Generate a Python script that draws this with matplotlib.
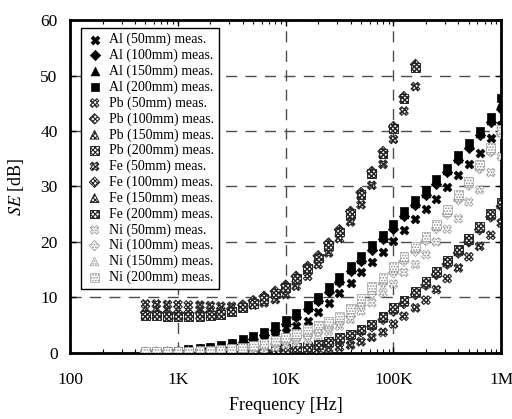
import matplotlib
matplotlib.use("Agg")
import matplotlib.pyplot as plt
from matplotlib.ticker import FixedLocator, FixedFormatter, LogLocator, NullFormatter

plt.rcParams['font.family'] = ['Liberation Serif', 'DejaVu Serif']
plt.rcParams['mathtext.fontset'] = 'stix'

# measured frequencies [Hz]
freq = [500, 630, 800, 1000, 1250, 1600, 2000, 2500, 3150, 4000, 5000, 6300, 8000,
        10000, 12500, 16000, 20000, 25000, 31500, 40000, 50000, 63000, 80000,
        100000, 125000, 160000, 200000, 250000, 315000, 400000, 500000, 630000,
        800000, 1000000]
freq_fe = freq[:26]

# shielding effectiveness [dB]
al_50 = [0.0, 0.0, 0.1, 0.1, 0.2, 0.3, 0.4, 0.6, 0.9, 1.3, 1.8, 2.4, 3.0, 3.7, 4.9, 5.8, 7.3,
         9.0, 10.7, 12.6, 14.5, 16.3, 18.1, 20.1, 22.2, 24.2, 26.0, 27.8, 29.9, 32.0, 34.0,
         36.1, 38.7, 41.0]
al_100 = [0.1, 0.1, 0.2, 0.3, 0.4, 0.6, 0.8, 1.1, 1.5, 1.9, 2.5, 3.2, 4.1, 5.2, 6.4, 7.9, 9.3,
          11.0, 12.8, 14.8, 16.6, 18.6, 20.5, 22.4, 24.6, 26.6, 28.5, 30.5, 32.6, 34.8, 37.0,
          39.2, 41.6, 44.0]
al_150 = [0.1, 0.2, 0.3, 0.4, 0.5, 0.7, 0.9, 1.2, 1.6, 2.1, 2.7, 3.5, 4.4, 5.6, 6.8, 8.3, 9.7,
          11.5, 13.2, 15.2, 17.0, 19.0, 20.9, 22.8, 25.1, 27.1, 28.9, 30.9, 33.0, 35.2, 37.4,
          39.6, 42.0, 45.0]
al_200 = [0.1, 0.2, 0.3, 0.4, 0.6, 0.8, 1.0, 1.4, 1.8, 2.4, 3.0, 3.8, 4.8, 6.0, 7.2, 8.7, 10.1,
          11.9, 13.6, 15.6, 17.4, 19.4, 21.3, 23.2, 25.5, 27.5, 29.3, 31.3, 33.4, 35.6, 37.8,
          40.0, 42.5, 46.0]

pb_50 = [0.0, 0.0, 0.0, 0.0, 0.0, 0.0, 0.1, 0.1, 0.1, 0.1, 0.1, 0.2, 0.2, 0.3, 0.3, 0.4, 0.5,
         0.7, 1.0, 1.4, 2.0, 2.8, 3.7, 5.2, 6.6, 8.1, 9.5, 11.4, 13.4, 15.3, 17.3, 19.2, 21.2, 23.4]
pb_100 = [0.0, 0.1, 0.1, 0.1, 0.1, 0.1, 0.1, 0.2, 0.2, 0.2, 0.3, 0.3, 0.4, 0.6, 0.8, 1.0, 1.3,
          1.7, 2.3, 3.0, 3.8, 4.7, 6.0, 7.5, 8.9, 10.5, 12.2, 14.1, 16.0, 18.0, 20.0, 22.2, 24.5, 26.4]
pb_150 = [0.1, 0.1, 0.1, 0.1, 0.1, 0.1, 0.2, 0.2, 0.2, 0.3, 0.3, 0.4, 0.5, 0.7, 0.9, 1.1, 1.4,
          1.8, 2.5, 3.2, 4.1, 5.0, 6.3, 7.8, 9.2, 10.8, 12.5, 14.4, 16.3, 18.3, 20.3, 22.5, 24.8, 26.8]
pb_200 = [0.1, 0.1, 0.1, 0.1, 0.1, 0.2, 0.2, 0.2, 0.3, 0.3, 0.3, 0.4, 0.6, 0.8, 1.0, 1.2, 1.5,
          2.0, 2.7, 3.4, 4.3, 5.2, 6.6, 8.1, 9.5, 11.1, 12.8, 14.7, 16.6, 18.6, 20.6, 22.8, 25.1, 27.1]

fe_50 = [8.8, 8.8, 8.7, 8.7, 8.6, 8.6, 8.5, 8.4, 8.4, 8.4, 8.6, 9.0, 9.6, 10.5, 12.0, 13.8, 15.9,
         18.0, 20.6, 23.6, 26.7, 30.2, 34.0, 38.5, 43.6, 48.0]
fe_100 = [7.3, 7.3, 7.2, 7.2, 7.2, 7.2, 7.3, 7.5, 7.9, 8.6, 9.4, 10.2, 11.1, 12.2, 13.8, 15.6, 17.5,
          19.8, 22.2, 25.5, 28.9, 32.7, 36.3, 40.8, 46.2, 52.0]
fe_150 = [7.0, 7.0, 6.9, 6.9, 6.9, 6.9, 7.0, 7.2, 7.7, 8.4, 9.2, 10.0, 10.9, 12.0, 13.6, 15.4, 17.3,
          19.6, 22.0, 25.3, 28.7, 32.5, 36.1, 40.6, 46.0, 51.7]
fe_200 = [6.7, 6.7, 6.6, 6.6, 6.6, 6.6, 6.7, 6.9, 7.4, 8.1, 8.9, 9.8, 10.7, 11.8, 13.4, 15.2, 17.1,
          19.4, 21.8, 25.1, 28.5, 32.3, 35.9, 40.4, 45.8, 51.5]

ni_50 = [0.1, 0.1, 0.1, 0.1, 0.1, 0.2, 0.2, 0.3, 0.3, 0.4, 0.5, 0.7, 1.0, 1.4, 1.8, 2.3, 3.0,
         3.8, 4.8, 6.0, 7.5, 9.0, 10.8, 12.4, 14.5, 15.9, 17.7, 20.0, 22.3, 24.2, 27.2, 29.4, 32.5, 35.4]
ni_100 = [0.1, 0.1, 0.2, 0.2, 0.2, 0.3, 0.3, 0.4, 0.6, 0.7, 0.9, 1.2, 1.6, 2.0, 2.5, 3.1, 3.8,
          4.5, 5.4, 6.6, 8.5, 10.6, 12.5, 14.4, 16.5, 18.3, 20.2, 22.4, 25.0, 27.6, 30.2, 33.2, 36.2, 39.4]
ni_150 = [0.2, 0.2, 0.2, 0.2, 0.3, 0.3, 0.4, 0.5, 0.7, 0.9, 1.1, 1.5, 1.9, 2.4, 3.0, 3.7, 4.4,
          5.1, 6.0, 7.3, 9.2, 11.3, 13.1, 15.0, 17.0, 18.8, 20.6, 22.8, 25.4, 28.1, 30.6, 33.6, 36.6, 39.8]
ni_200 = [0.2, 0.2, 0.2, 0.3, 0.3, 0.4, 0.5, 0.6, 0.8, 1.0, 1.3, 1.7, 2.2, 2.8, 3.5, 4.2, 5.0,
          5.7, 6.6, 8.0, 9.8, 11.9, 13.6, 15.5, 17.4, 19.2, 21.0, 23.2, 25.8, 28.5, 31.0, 34.0, 37.0, 40.3]

series = [
    ("Al (50mm) meas.", freq, al_50, "X", "solid"),
    ("Al (100mm) meas.", freq, al_100, "D", "solid"),
    ("Al (150mm) meas.", freq, al_150, "^", "solid"),
    ("Al (200mm) meas.", freq, al_200, "s", "solid"),
    ("Pb (50mm) meas.", freq, pb_50, "X", "dark"),
    ("Pb (100mm) meas.", freq, pb_100, "D", "dark"),
    ("Pb (150mm) meas.", freq, pb_150, "^", "dark"),
    ("Pb (200mm) meas.", freq, pb_200, "s", "dark"),
    ("Fe (50mm) meas.", freq_fe, fe_50, "X", "dark"),
    ("Fe (100mm) meas.", freq_fe, fe_100, "D", "dark"),
    ("Fe (150mm) meas.", freq_fe, fe_150, "^", "dark"),
    ("Fe (200mm) meas.", freq_fe, fe_200, "s", "dark"),
    ("Ni (50mm) meas.", freq, ni_50, "X", "light"),
    ("Ni (100mm) meas.", freq, ni_100, "D", "light"),
    ("Ni (150mm) meas.", freq, ni_150, "^", "light"),
    ("Ni (200mm) meas.", freq, ni_200, "s", "light"),
]

fig = plt.figure(figsize=(5.12, 4.19), dpi=100)
ax = fig.add_axes([0.137, 0.158, 0.842, 0.794])

for label, x, y, m, style in series:
    size = 40 if m != "D" else 28
    if style == "solid":
        ax.scatter(x, y, marker=m, s=size, facecolor="black", edgecolor="black",
                   linewidths=0.5, label=label, zorder=3)
    elif style == "dark":
        plt.rcParams['hatch.linewidth'] = 1.1
        ax.scatter(x, y, marker=m, s=size, facecolor="white", edgecolor="0.15",
                   hatch="xxxxxxx", linewidths=0.7, label=label, zorder=3)
    else:
        plt.rcParams['hatch.linewidth'] = 0.8
        ax.scatter(x, y, marker=m, s=size, facecolor="white", edgecolor="0.55",
                   hatch="......", linewidths=0.4, label=label, zorder=3)

ax.set_xscale("log")
ax.set_xlim(100, 1e6)
ax.set_ylim(0, 60)
ax.xaxis.set_major_locator(FixedLocator([1e2, 1e3, 1e4, 1e5, 1e6]))
ax.xaxis.set_major_formatter(FixedFormatter(["100", "1K", "10K", "100K", "1M"]))
ax.xaxis.set_minor_locator(LogLocator(base=10, subs=range(2, 10)))
ax.xaxis.set_minor_formatter(NullFormatter())
ax.set_yticks(range(0, 61, 10))

ax.grid(True, which="major", linestyle=(0, (8, 6)), color="0.3", linewidth=1.0)
ax.tick_params(which="both", direction="in", top=True, right=True, labelsize=12.5)
ax.tick_params(which="major", length=4, width=1)
ax.tick_params(which="minor", length=3, width=0.8)
ax.tick_params(axis="x", pad=14)
ax.tick_params(axis="y", pad=9)
for sp in ax.spines.values():
    sp.set_linewidth(2)

ax.set_xlabel("Frequency [Hz]", fontsize=13, labelpad=6)
ax.set_ylabel(r"$SE$ [dB]", fontsize=13, labelpad=10)

leg = ax.legend(loc="upper left", bbox_to_anchor=(0.026, 0.976), borderaxespad=0,
                fontsize=10, fancybox=False, framealpha=1, edgecolor="black",
                handletextpad=0.45, labelspacing=0.17, borderpad=0.35, handlelength=1.2,
                scatterpoints=1)
leg.get_frame().set_linewidth(1)

fig.savefig("out.png", dpi=100)
